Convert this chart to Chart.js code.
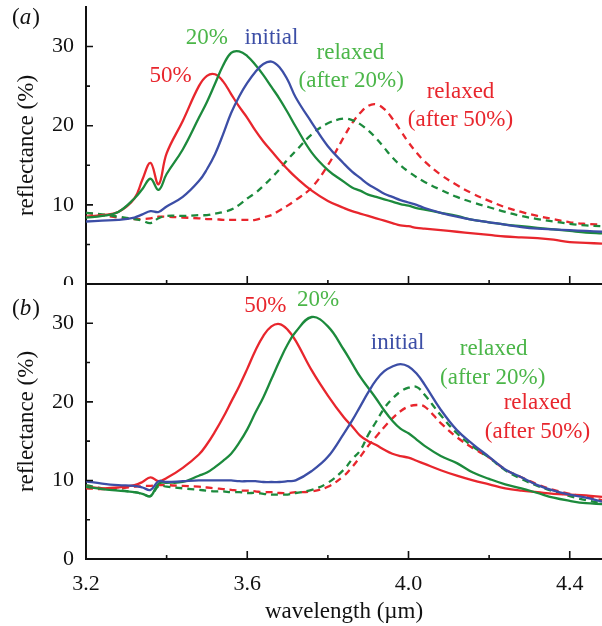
<!DOCTYPE html>
<html>
<head>
<meta charset="utf-8">
<script src="https://cdn.jsdelivr.net/npm/chart.js@4.4.0/dist/chart.umd.min.js"></script>
<style>
html, body { margin: 0; padding: 0; background: #fff; }
#wrap { position: relative; width: 602px; height: 626px; overflow: hidden; }
#chartA { position: absolute; left: 0; top: 0; }
#chartB { position: absolute; left: 0; top: 275px; }
</style>
</head>
<body>
<div id="wrap">
  <canvas id="chartA" width="602" height="285"></canvas>
  <canvas id="chartB" width="602" height="351"></canvas>
</div>
<script>
// wavelength grid (µm), shared by every curve
const wavelength = [3.20, 3.24, 3.28, 3.32, 3.34, 3.36, 3.38, 3.40, 3.44, 3.48,
  3.50, 3.52, 3.54, 3.56, 3.58, 3.60, 3.62, 3.64, 3.66, 3.68, 3.70, 3.72,
  3.76, 3.80, 3.84, 3.86, 3.88, 3.90, 3.92, 3.94, 3.96, 3.98, 4.00, 4.02, 4.04,
  4.08, 4.12, 4.16, 4.20, 4.24, 4.28, 4.32, 4.36, 4.40, 4.44, 4.48];

/* panel (a) */
const initialA = [7.9, 8.0, 8.1, 8.4, 8.8, 9.2, 9.1, 9.8, 11.0, 13.0,
  14.5, 16.4, 18.9, 21.6, 23.7, 25.4, 26.8, 27.8, 28.1, 27.4, 25.8, 23.6,
  20.4, 17.4, 15.2, 14.2, 13.4, 12.6, 12.0, 11.4, 11.0, 10.6, 10.3, 10.0, 9.6,
  9.0, 8.5, 8.1, 7.8, 7.5, 7.2, 7.0, 6.9, 6.8, 6.7, 6.6];
const strain20A = [8.4, 8.6, 9.1, 10.8, 12.0, 13.3, 11.9, 13.9, 17.0, 21.0,
  23.0, 25.3, 27.6, 29.2, 29.4, 28.8, 27.7, 26.4, 24.9, 23.4, 21.7, 19.9,
  16.6, 14.4, 12.9, 12.2, 11.8, 11.3, 11.0, 10.7, 10.4, 10.1, 9.9, 9.6, 9.4,
  9.0, 8.6, 8.1, 7.8, 7.5, 7.3, 7.1, 6.9, 6.7, 6.5, 6.4];
const strain50A = [8.5, 8.7, 9.1, 10.8, 13.2, 15.3, 12.6, 16.5, 20.6, 25.0,
  26.3, 26.5, 25.6, 24.0, 22.4, 21.0, 19.4, 18.0, 16.8, 15.6, 14.5, 13.5,
  11.8, 10.5, 9.6, 9.2, 8.9, 8.6, 8.3, 8.0, 7.7, 7.4, 7.3, 7.1, 7.0,
  6.8, 6.6, 6.4, 6.2, 6.0, 5.9, 5.8, 5.6, 5.3, 5.2, 5.1];
const relaxed20A = [9.0, 8.8, 8.5, 8.2, 8.0, 7.7, 8.3, 8.6, 8.6, 8.7,
  8.7, 8.9, 9.1, 9.4, 10.0, 10.8, 11.5, 12.4, 13.4, 14.5, 15.7, 16.8,
  18.9, 20.3, 20.9, 20.7, 20.2, 19.4, 18.4, 17.2, 16.0, 15.0, 14.2, 13.5, 12.9,
  11.9, 11.0, 10.3, 9.7, 9.1, 8.6, 8.2, 7.9, 7.6, 7.4, 7.3];
const relaxed50A = [9.0, 8.7, 8.4, 8.2, 8.2, 8.3, 8.5, 8.5, 8.4, 8.3,
  8.2, 8.2, 8.1, 8.1, 8.1, 8.1, 8.1, 8.4, 8.7, 9.3, 9.9, 10.6,
  12.2, 15.0, 18.6, 20.3, 21.6, 22.5, 22.7, 22.1, 20.9, 19.4, 17.9, 16.6, 15.5,
  13.8, 12.5, 11.4, 10.5, 9.7, 9.1, 8.6, 8.2, 7.8, 7.6, 7.5];

/* panel (b) */
const initialB = [9.9, 9.6, 9.4, 9.3, 9.1, 8.8, 9.9, 9.8, 9.9, 10.0,
  10.0, 10.0, 10.0, 10.0, 9.9, 9.9, 9.9, 9.8, 9.8, 9.8, 9.9, 10.0,
  11.2, 13.0, 16.0, 17.6, 19.4, 21.2, 22.8, 23.9, 24.5, 24.8, 24.5, 23.6, 22.2,
  19.0, 16.4, 14.6, 13.0, 11.4, 10.4, 9.4, 8.7, 8.2, 7.8, 7.3];
const strain20B = [9.2, 8.9, 8.7, 8.5, 8.3, 8.0, 9.6, 9.7, 9.8, 10.6,
  11.0, 11.7, 12.5, 13.4, 14.8, 16.5, 18.6, 20.6, 22.9, 25.2, 27.3, 28.9,
  30.8, 29.6, 26.6, 24.9, 23.2, 21.8, 20.4, 18.9, 17.6, 16.6, 16.0, 15.2, 14.4,
  13.1, 12.2, 11.0, 10.2, 9.5, 9.0, 8.4, 7.8, 7.4, 7.1, 7.0];
const strain50B = [9.2, 9.0, 9.1, 9.4, 9.8, 10.4, 9.9, 10.3, 11.6, 13.3,
  14.6, 16.2, 18.0, 20.0, 22.0, 24.2, 26.5, 28.4, 29.6, 29.9, 29.2, 27.8,
  24.0, 20.8, 18.0, 16.9, 15.7, 15.0, 14.5, 13.9, 13.4, 13.1, 12.9, 12.5, 12.1,
  11.3, 10.6, 10.0, 9.5, 9.0, 8.7, 8.5, 8.3, 8.2, 8.1, 7.9];
const relaxed20B = [9.4, 9.0, 8.8, 8.5, 8.3, 8.0, 9.3, 9.2, 9.0, 8.8,
  8.7, 8.6, 8.6, 8.5, 8.5, 8.4, 8.4, 8.3, 8.2, 8.2, 8.2, 8.4,
  8.8, 9.7, 11.4, 12.7, 13.8, 15.8, 17.5, 19.2, 20.4, 21.3, 21.8, 21.9, 20.9,
  18.3, 16.0, 14.3, 12.9, 11.3, 10.2, 9.3, 8.6, 8.0, 7.5, 7.1];
const relaxed50B = [9.0, 8.9, 9.0, 9.2, 9.3, 9.3, 9.4, 9.4, 9.3, 9.2,
  9.1, 9.0, 8.9, 8.8, 8.7, 8.7, 8.6, 8.5, 8.5, 8.4, 8.4, 8.5,
  8.6, 9.2, 10.6, 11.7, 13.0, 14.4, 15.6, 16.8, 17.9, 18.8, 19.4, 19.6, 19.4,
  17.3, 15.5, 14.1, 12.9, 11.4, 10.4, 9.5, 8.8, 8.3, 7.9, 7.5];

// axis ticks
const xMajor = [3.2, 3.6, 4.0, 4.4];
const xMinor = [3.4, 3.8, 4.2];
const yMajor = [0, 10, 20, 30];
const yMinor = [5, 15, 25];

const RED = '#e8262d', GREEN = '#1c8a3c', BLUE = '#3c4ea6', LGREEN = '#4bb649';
const SERIF = '"Liberation Serif", "DejaVu Serif", serif';

// curve labels: [text, x (µm), y (%), colour]
const labelsA = [
  ['20%', 3.50, 31.1, LGREEN],
  ['initial', 3.66, 31.1, BLUE],
  ['50%', 3.41, 26.3, RED],
  ['relaxed', 3.856, 29.2, LGREEN],
  ['(after 20%)', 3.858, 25.7, LGREEN],
  ['relaxed', 4.129, 24.3, RED],
  ['(after 50%)', 4.129, 20.7, RED]
];
const labelsB = [
  ['50%', 3.645, 32.2, RED],
  ['20%', 3.776, 33.0, LGREEN],
  ['initial', 3.973, 27.5, BLUE],
  ['relaxed', 4.211, 26.7, LGREEN],
  ['(after 20%)', 4.209, 23.0, LGREEN],
  ['relaxed', 4.32, 19.9, RED],
  ['(after 50%)', 4.32, 16.2, RED]
];

function pts(arr) {
  return wavelength.map((x, i) => ({ x: x, y: arr[i] }));
}

function series(label, arr, color, dashed) {
  return {
    label: label,
    data: pts(arr),
    borderColor: color,
    borderWidth: 2.3,
    borderDash: dashed ? [7, 5] : [],
    pointRadius: 0,
    tension: 0.4,
    fill: false
  };
}

/* ticks inside the axes, panel letter and curve labels */
const decor = {
  id: 'decor',
  afterDraw(chart) {
    const { ctx, chartArea: { left, bottom }, scales: { x, y } } = chart;
    const opts = chart.options.plugins.decor;
    ctx.save();
    ctx.strokeStyle = '#111';
    ctx.lineWidth = 1.6;
    ctx.beginPath();
    yMajor.forEach(v => { const p = y.getPixelForValue(v); ctx.moveTo(left, p); ctx.lineTo(left + 7, p); });
    yMinor.forEach(v => { const p = y.getPixelForValue(v); ctx.moveTo(left, p); ctx.lineTo(left + 4, p); });
    xMajor.forEach(v => { const p = x.getPixelForValue(v); ctx.moveTo(p, bottom); ctx.lineTo(p, bottom - 8); });
    xMinor.forEach(v => { const p = x.getPixelForValue(v); ctx.moveTo(p, bottom); ctx.lineTo(p, bottom - 4); });
    ctx.stroke();

    ctx.font = '23px ' + SERIF;
    ctx.textAlign = 'center';
    ctx.textBaseline = 'middle';
    opts.labels.forEach(l => {
      ctx.fillStyle = l[3];
      ctx.fillText(l[0], x.getPixelForValue(l[1]), y.getPixelForValue(l[2]));
    });

    // (a) / (b) with italic letter
    ctx.fillStyle = '#111';
    ctx.textAlign = 'left';
    let px = 12;
    const py = opts.letterY;
    ctx.font = '23px ' + SERIF;
    ctx.fillText('(', px, py); px += ctx.measureText('(').width;
    ctx.font = 'italic 23px ' + SERIF;
    ctx.fillText(opts.letter, px, py); px += ctx.measureText(opts.letter).width + 1;
    ctx.font = '23px ' + SERIF;
    ctx.fillText(')', px, py);
    ctx.restore();
  }
};

function makeChart(id, panel, sets, labels) {
  const isB = panel === 'b';
  return new Chart(document.getElementById(id), {
    type: 'line',
    data: { datasets: sets },
    plugins: [decor],
    options: {
      responsive: false,
      animation: false,
      layout: { padding: { top: isB ? 9 : 7, left: 0, right: 0, bottom: 0 } },
      plugins: {
        legend: { display: false },
        tooltip: { enabled: false },
        decor: { labels: labels, letter: panel, letterY: isB ? 34 : 18 }
      },
      scales: {
        x: {
          type: 'linear',
          min: 3.2,
          max: 4.48,
          grid: { display: false, drawTicks: false },
          border: { display: true, color: '#111', width: 2 },
          ticks: {
            display: isB,
            stepSize: 0.4,
            includeBounds: false,
            autoSkip: false,
            maxRotation: 0,
            padding: 12,
            color: '#111',
            font: { family: SERIF, size: 22 },
            callback: v => v.toFixed(1)
          },
          title: {
            display: isB,
            text: 'wavelength (µm)',
            color: '#111',
            font: { family: SERIF, size: 23 },
            padding: { top: 0, bottom: 0 }
          },
          afterFit: s => {
            s.height = isB ? 67 : 1;
            s.paddingLeft = 0; s.paddingRight = 0;
          }
        },
        y: {
          min: 0,
          max: 35,
          grid: { display: false, drawTicks: false },
          border: { display: true, color: '#111', width: 2 },
          ticks: {
            stepSize: 10,
            includeBounds: false,
            padding: 12,
            color: '#111',
            font: { family: SERIF, size: 22 }
          },
          title: {
            display: true,
            text: 'reflectance (%)',
            color: '#111',
            font: { family: SERIF, size: 23 },
            padding: { top: 13, bottom: 0 }
          },
          afterFit: s => {
            s.width = 86;
            s.paddingTop = 0; s.paddingBottom = 0;
          }
        }
      }
    }
  });
}

makeChart('chartA', 'a', [
  series('initial', initialA, BLUE, false),
  series('20%', strain20A, GREEN, false),
  series('50%', strain50A, RED, false),
  series('relaxed (after 20%)', relaxed20A, GREEN, true),
  series('relaxed (after 50%)', relaxed50A, RED, true)
], labelsA);

makeChart('chartB', 'b', [
  series('initial', initialB, BLUE, false),
  series('20%', strain20B, GREEN, false),
  series('50%', strain50B, RED, false),
  series('relaxed (after 20%)', relaxed20B, GREEN, true),
  series('relaxed (after 50%)', relaxed50B, RED, true)
], labelsB);
</script>
</body>
</html>
